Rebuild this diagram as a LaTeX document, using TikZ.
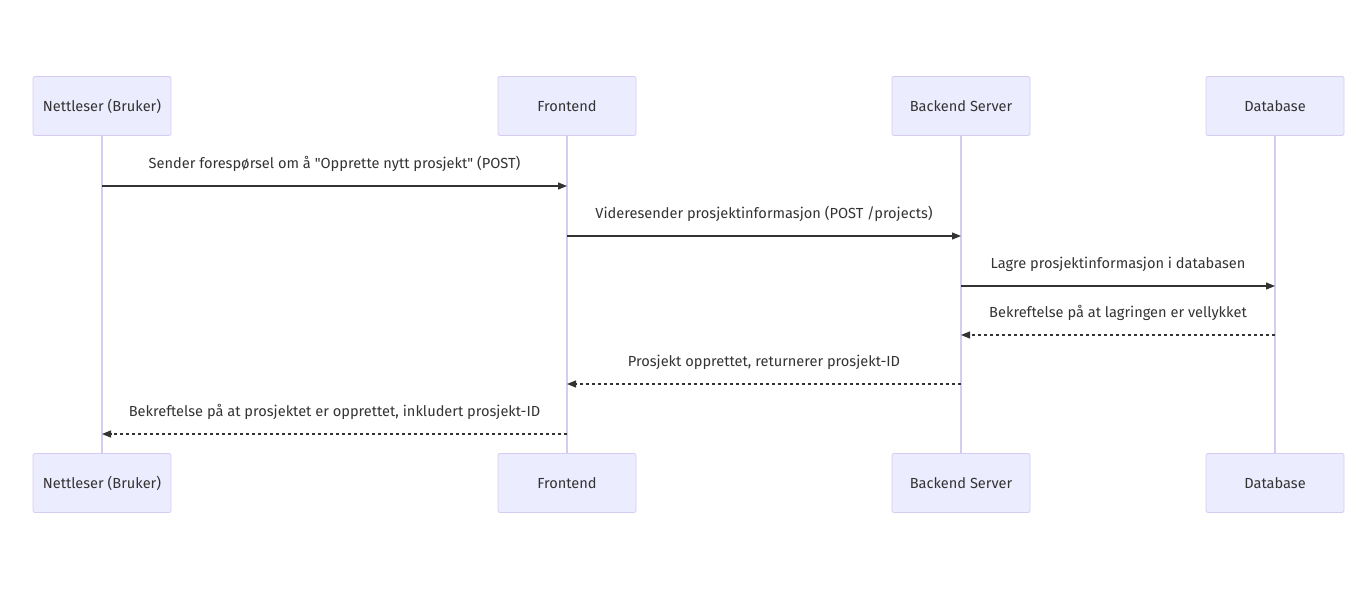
\documentclass[tikz,border=0pt]{standalone}
\usepackage{fontspec}
\setmainfont{Fira Sans}
\usetikzlibrary{arrows.meta}

\definecolor{actfill}{HTML}{ECECFF}
\definecolor{actline}{HTML}{D6CCF2}
\definecolor{txt}{HTML}{333333}

\begin{document}
\begin{tikzpicture}[
          act/.style={draw=actline, fill=actfill, rounded corners=2pt, line width=0.8pt,
            minimum width=138pt, minimum height=59pt, text=txt, font=\fontsize{14.6}{16}\selectfont},
          life/.style={actline, line width=1.2pt},
          msg/.style={-{Triangle[length=9pt,width=7pt]}, txt, line width=1.2pt},
          ret/.style={msg, dash pattern=on 3pt off 3pt},
          lbl/.style={text=txt, anchor=base, yshift=18pt, inner sep=0pt, font=\fontsize{14.6}{16}\selectfont},
          x=1pt,
          y=-1pt,
        ]
      \useasboundingbox (0,0) rectangle (1368,589);
      % actors
      \node[act] (nt) at (102, 106) {Nettleser (Bruker)};
      \node[act] (ft) at (567, 106) {Frontend};
      \node[act] (bt) at (961, 106) {Backend Server};
      \node[act] (dt) at (1275, 106) {Database};
      \node[act] (nb) at (102, 483) {Nettleser (Bruker)};
      \node[act] (fb) at (567, 483) {Frontend};
      \node[act] (bb) at (961, 483) {Backend Server};
      \node[act] (db) at (1275, 483) {Database};
      % lifelines
      \draw[life] (nt) -- (nb);
      \draw[life] (ft) -- (fb);
      \draw[life] (bt) -- (bb);
      \draw[life] (dt) -- (db);
      % messages
      \draw[msg] (nt |- 0,186) -- (ft |- 0,186)
        node[lbl, midway] (m1) {Sender forespørsel om å \textquotedbl Opprette nytt prosjekt\textquotedbl{} (POST)};
      \draw[msg] (ft |- 0,236) -- (bt |- 0,236)
        node[lbl, midway] (m2) {Videresender prosjektinformasjon (POST /projects)};
      \draw[msg] (bt |- 0,286) -- (dt |- 0,286)
        node[lbl, midway] (m3) {Lagre prosjektinformasjon i databasen};
      \draw[ret] (dt |- 0,335) -- (bt |- 0,335)
        node[lbl, midway] (m4) {Bekreftelse på at lagringen er vellykket};
      \draw[ret] (bt |- 0,384) -- (ft |- 0,384)
        node[lbl, midway] (m5) {Prosjekt opprettet, returnerer prosjekt-ID};
      \draw[ret] (ft |- 0,434) -- (nt |- 0,434)
        node[lbl, midway] (m6) {Bekreftelse på at prosjektet er opprettet, inkludert prosjekt-ID};
    \end{tikzpicture}
\end{document}
